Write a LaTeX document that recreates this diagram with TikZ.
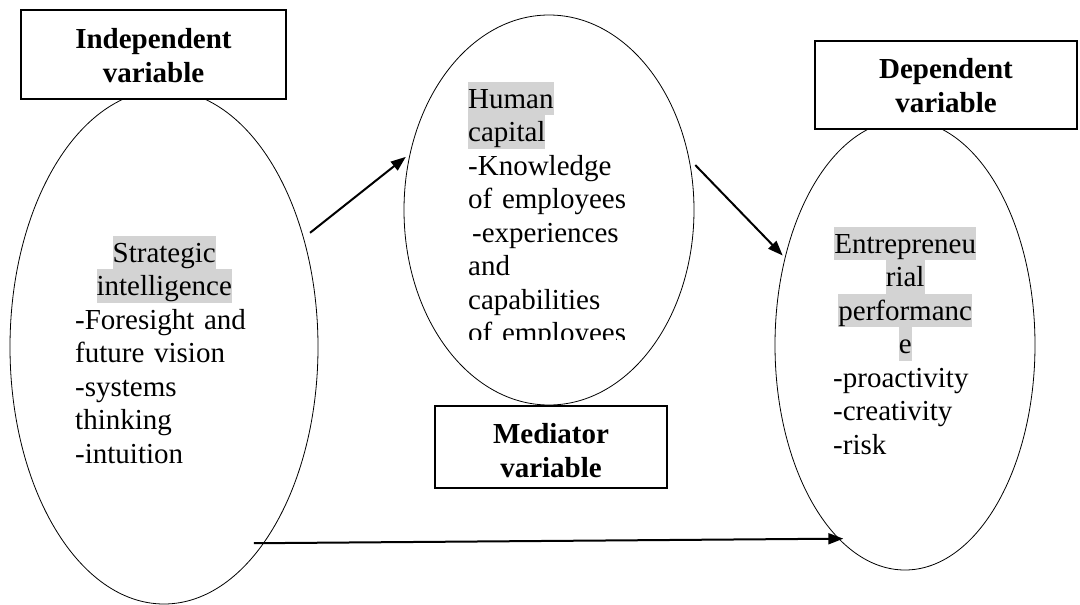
\documentclass[tikz,border=0pt]{standalone}
\usepackage{fontspec}
\setmainfont{Liberation Serif}
\usetikzlibrary{shapes.geometric,arrows.meta}
\definecolor{markgray}{RGB}{211,211,211}
% grey highlight behind a heading word, one line tall
\newcommand{\mk}[1]{{\setlength{\fboxsep}{0pt}\colorbox{markgray}{\rule[-7pt]{0pt}{33.5pt}#1}}}
% invisible struts that set the first line's height and the last line's depth
\newcommand{\tp}[1]{\rule{0pt}{#1}}
\newcommand{\bt}[1]{\rule[-#1]{0pt}{#1}}
\begin{document}
\begin{tikzpicture}[x=1pt,y=-1pt,
  oval/.style={ellipse, draw, line width=0.8pt, inner sep=0pt},
  varbox/.style={rectangle, draw, line width=1.2pt, fill=white, inner sep=0pt,
    align=center, font=\fontsize{29}{34}\selectfont\bfseries},
  body/.style={inner sep=0pt, font=\fontsize{29}{33.5}\selectfont, align=left},
  link/.style={line width=2pt, -{Triangle[length=15pt,width=11pt]}}]

\useasboundingbox (0,0) rectangle (1080,605);

% the three constructs
\node[oval, minimum width=308pt, minimum height=514pt] (iv) at (164,347) {};
\node[oval, minimum width=290pt, minimum height=390pt] (mv) at (549,210) {};
\node[oval, minimum width=260pt, minimum height=450pt] (dv) at (905,345) {};

% variable-type labels
\node[varbox, minimum width=265pt, minimum height=89pt] (ivbox) at (153.5,54.5)
  {\tp{27pt}Independent\\variable\bt{6pt}};
\node[varbox, minimum width=262pt, minimum height=88pt] (dvbox) at (946,85)
  {\tp{26pt}Dependent\\variable\bt{6pt}};
\node[varbox, minimum width=232pt, minimum height=82pt] (mvbox) at (551,447)
  {\tp{30pt}Mediator\\variable\bt{4pt}};

% contents of the constructs
\node[body, anchor=base west, text width=178pt] (ivtext) at (75,262)
  {\makebox[178pt]{\mk{Strategic}}\\
   \makebox[178pt]{\mk{intelligence}}\\
   -Foresight and\\
   future vision\\
   -systems\\
   thinking\\
   -intuition};

\begin{scope}
  \clip (400,0) rectangle (700,339);
  \node[body, anchor=base west, text width=210pt] (mvtext) at (468,108)
    {\mk{Human}\\
     \mk{capital}\\
     -Knowledge\\
     of employees\\
     \hspace*{4pt}-experiences\\
     and\\
     capabilities\\
     of employees};
\end{scope}

\node[body, anchor=base west, text width=144pt] (dvtext) at (833,253)
  {\makebox[144pt]{\mk{Entrepreneu}}\\
   \makebox[144pt]{\mk{rial}}\\
   \makebox[144pt]{\mk{performanc}}\\
   \makebox[144pt]{\mk{e}}\\
   -proactivity\\
   -creativity\\
   -risk};

% paths between the constructs
\draw[link, shorten <=8pt, shorten >=5pt] (iv.38.7) -- (mv.158.7);
\draw[link, shorten <=8.5pt, shorten >=3pt] (mv.20.8) -- (dv.144.4);
\draw[link, shorten <=-10pt, shorten >=-5pt] (iv.-63.6) -- (dv.-109.1);
\end{tikzpicture}
\end{document}
